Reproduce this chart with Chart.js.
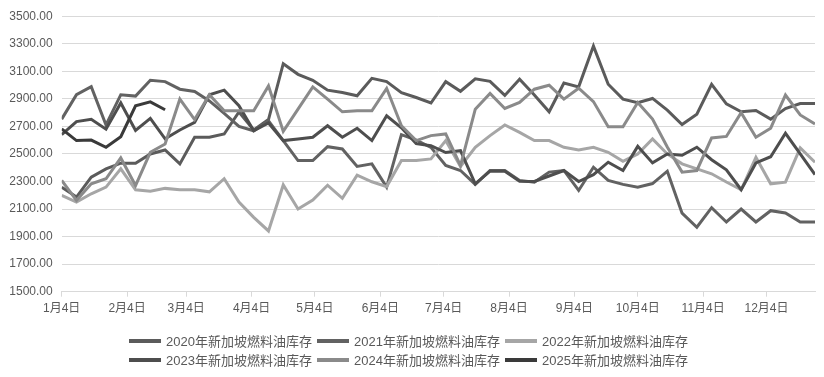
<!DOCTYPE html>
<html>
<head>
<meta charset="utf-8">
<script src="https://cdn.jsdelivr.net/npm/chart.js@4.4.1/dist/chart.umd.min.js"></script>
<style>
    body { margin: 0; background: #fff; }
    #wrap { position: relative; width: 824px; height: 377px; }
    #legend {
        position: absolute; left: 129px; top: 331px; width: 570px;
        display: flex; flex-wrap: wrap;
        font: 13px "Liberation Sans", "Noto Sans CJK SC", sans-serif; color: #595959;
    }
    .item { width: 188px; height: 19px; display: flex; align-items: center; white-space: nowrap; }
    .sw { width: 32px; height: 4px; margin-right: 5px; flex: none; }
</style>
</head>
<body>
<div id="wrap">
    <canvas id="stockChart" width="824" height="377"></canvas>
    <div id="legend"></div>
</div>
<script>
// x axis: days after Jan 4, one point per week
const weekDays = Array.from({ length: 52 }, (_, i) => i * 7);
const monthDays = [0, 31, 59, 90, 120, 151, 181, 212, 243, 273, 304, 334];
const monthLabels = ['1月4日', '2月4日', '3月4日', '4月4日', '5月4日', '6月4日',
    '7月4日', '8月4日', '9月4日', '10月4日', '11月4日', '12月4日'];

const yMin = 1500;
const yMax = 3500;
const yStep = 200;

const seriesNames = ['2020年新加坡燃料油库存', '2021年新加坡燃料油库存', '2022年新加坡燃料油库存',
    '2023年新加坡燃料油库存', '2024年新加坡燃料油库存', '2025年新加坡燃料油库存'];
const seriesColors = ['#5b5b5b', '#626262', '#a6a6a6', '#4e4e4e', '#8a8a8a', '#3a3a3a'];

const stock2020 = [2259, 2187, 2332, 2392, 2433, 2433, 2500, 2529, 2428, 2621,
    2621, 2645, 2805, 2674, 2750, 3155, 3078, 3035, 2963, 2946,
    2922, 3049, 3025, 2945, 2910, 2870, 3025, 2955, 3045, 3027,
    2925, 3042, 2928, 2806, 3015, 2987, 3283, 3006, 2898, 2872,
    2903, 2818, 2714, 2789, 3006, 2864, 2806, 2815, 2753, 2830,
    2866, 2866];
const stock2021 = [2753, 2930, 2989, 2710, 2930, 2920, 3035, 3025, 2970, 2953,
    2885, 2795, 2700, 2668, 2740, 2597, 2452, 2452, 2553, 2536,
    2409, 2428, 2259, 2640, 2600, 2548, 2416, 2380, 2279, 2380,
    2380, 2308, 2295, 2368, 2380, 2235, 2404, 2308, 2279, 2259,
    2285, 2375, 2070, 1968, 2110, 2006, 2100, 2006, 2088, 2071,
    2006, 2006];
const stock2022 = [2199, 2151, 2211, 2259, 2392, 2240, 2230, 2250, 2240, 2240,
    2225, 2320, 2150, 2040, 1941, 2275, 2100, 2165, 2273, 2178,
    2346, 2298, 2263, 2452, 2452, 2464, 2597, 2409, 2548, 2633,
    2710, 2657, 2597, 2597, 2548, 2529, 2548, 2512, 2447, 2500,
    2609, 2500, 2428, 2392, 2356, 2296, 2240, 2476, 2283, 2295,
    2544, 2440];
const stock2023 = [2640, 2735, 2752, 2680, 2870, 2670, 2758, 2610, 2674, 2729,
    2930, 2963, 2850, 2669, 2725, 2597, 2609, 2621, 2705, 2621,
    2686, 2597, 2777, 2690, 2575, 2560, 2510, 2524, 2283, 2375,
    2375, 2302, 2300, 2340, 2380, 2300, 2350, 2440, 2380, 2555,
    2435, 2500, 2490, 2549, 2458, 2385, 2240, 2435, 2480, 2650,
    2500, 2350];
const stock2024 = [2308, 2163, 2283, 2320, 2471, 2271, 2512, 2572, 2898, 2750,
    2930, 2813, 2813, 2813, 2994, 2664, 2825, 2987, 2898, 2806,
    2813, 2813, 2975, 2705, 2597, 2633, 2645, 2416, 2825, 2939,
    2830, 2874, 2970, 2999, 2898, 2977, 2880, 2698, 2698, 2874,
    2753, 2550, 2368, 2380, 2616, 2627, 2800, 2621, 2687, 2928,
    2783, 2717];
const stock2025 = [2681, 2597, 2601, 2548, 2625, 2850, 2878, 2821];

const allSeries = [stock2020, stock2021, stock2022, stock2023, stock2024, stock2025];

Chart.defaults.font.family = '"Liberation Sans", "Noto Sans CJK SC", sans-serif';
Chart.defaults.font.size = 12;
Chart.defaults.color = '#595959';

const datasets = allSeries.map((values, i) => ({
    label: seriesNames[i],
    data: values,
    borderColor: seriesColors[i],
    backgroundColor: seriesColors[i],
    borderWidth: 3,
    pointRadius: 0,
    tension: 0,
    fill: false,
    order: allSeries.length - i  // later years drawn on top
}));

new Chart(document.getElementById('stockChart'), {
    type: 'line',
    data: { labels: weekDays, datasets: datasets },
    options: {
        responsive: false,
        animation: false,
        devicePixelRatio: 1,
        layout: { padding: { left: 0, right: 9, top: 15, bottom: 0 } },
        plugins: {
            legend: { display: false },
            tooltip: { enabled: false }
        },
        scales: {
            x: {
                type: 'linear',
                min: 0,
                max: weekDays[weekDays.length - 1],
                afterBuildTicks: function(scale) {
                    scale.ticks = monthDays.map(d => ({ value: d }));
                },
                afterFit: function(scale) { scale.height = 85.3; },
                ticks: {
                    autoSkip: false,
                    maxRotation: 0,
                    padding: 5,
                    callback: function(value) {
                        return monthLabels[monthDays.indexOf(value)];
                    }
                },
                grid: { drawOnChartArea: false, drawTicks: true, tickLength: 5, color: '#d9d9d9' },
                border: { display: true, color: '#d9d9d9' }
            },
            y: {
                min: yMin,
                max: yMax,
                afterFit: function(scale) { scale.width = 61.7; },
                ticks: {
                    stepSize: yStep,
                    padding: 9,
                    callback: function(value) { return value.toFixed(2); }
                },
                grid: { color: '#d9d9d9', drawTicks: false },
                border: { display: false }
            }
        }
    }
});

// legend in two rows of three, as in the source figure
const legendEl = document.getElementById('legend');
seriesNames.forEach((name, i) => {
    const item = document.createElement('div');
    item.className = 'item';
    item.innerHTML = '<span class="sw" style="background:' + seriesColors[i] + '"></span>' + name;
    legendEl.appendChild(item);
});
</script>
</body>
</html>
